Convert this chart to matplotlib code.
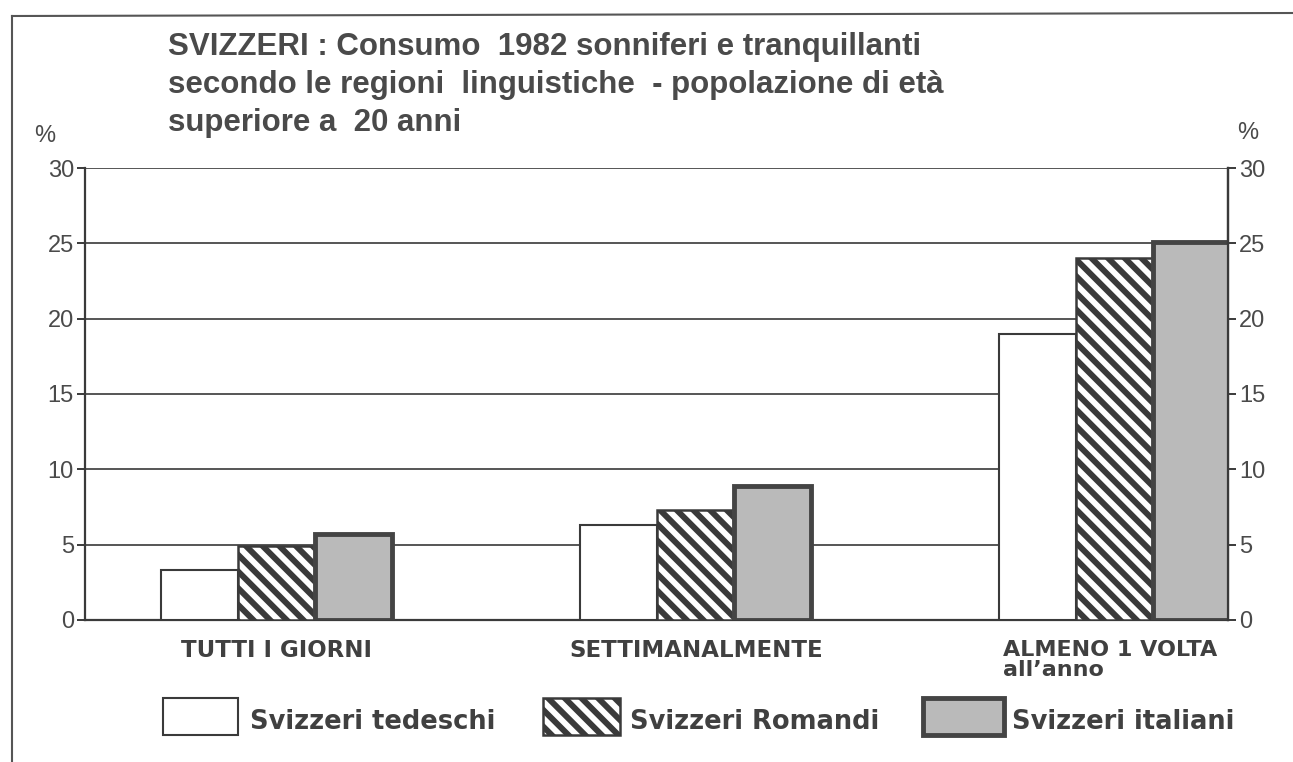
"""
Svizzeri: consumo 1982 sonniferi e tranquillanti per regione linguistica
"""
import matplotlib
matplotlib.use("Agg")
import matplotlib.pyplot as plt
from matplotlib.patches import Rectangle
from matplotlib.lines import Line2D

# dati
categorie = ["TUTTI I GIORNI", "SETTIMANALMENTE", "ALMENO 1 VOLTA\nall\u2019anno"]
tedeschi = [3.3, 6.3, 19.0]
romandi = [4.9, 7.3, 24.0]
italiani = [5.7, 8.9, 25.1]
gruppi = ["Svizzeri tedeschi", "Svizzeri Romandi", "Svizzeri italiani"]
y_ticks = [0, 5, 10, 15, 20, 25, 30]

plt.rcParams["hatch.linewidth"] = 4.3
plt.rcParams["font.family"] = ["Liberation Sans", "DejaVu Sans"]

INK = "#3a3a3a"
GRAY = "#bababa"
WIDE = ["DejaVu Sans"]

fig = plt.figure(figsize=(12.93, 7.62), dpi=100)
ax = fig.add_axes([0.0657, 0.1864, 0.8840, 0.5931])

x = list(range(len(categorie)))
w = 0.184
ax.bar([i - w for i in x], tedeschi, w, color="white", edgecolor=INK, linewidth=1.5, zorder=3)
ax.bar(x, romandi, w, color="white", edgecolor=INK, hatch="\\\\", linewidth=1.8, zorder=3)
ax.bar([i + w for i in x], italiani, w, color=GRAY, edgecolor="#444444", linewidth=3.5, zorder=3)

ax.set_xlim(-0.458, 2.27)
ax.set_ylim(0, 30)
ax.set_yticks(y_ticks)
ax.set_xticks([])
ax.yaxis.grid(True, color="#555555", linewidth=1.4)
ax.set_axisbelow(True)
ax.tick_params(axis="y", direction="out", length=6, width=1.4, color=INK,
               labelsize=17, labelcolor="#4a4a4a", pad=2)
for s in ax.spines.values():
    s.set_color(INK)
    s.set_linewidth(1.6)
ax.spines["top"].set_visible(False)

ax2 = ax.twinx()
ax2.set_ylim(0, 30)
ax2.set_yticks(y_ticks)
ax2.tick_params(axis="y", direction="out", length=6, width=1.4, color=INK,
                labelsize=17, labelcolor="#4a4a4a", pad=2)
for s in ax2.spines.values():
    s.set_visible(False)
ax2.spines["right"].set_visible(True)
ax2.spines["right"].set_color(INK)
ax2.spines["right"].set_linewidth(1.6)

fig.text(45 / 1293, 1 - 136 / 762, "%", fontsize=17, color="#4a4a4a", ha="center", va="center")
fig.text(1248 / 1293, 1 - 133 / 762, "%", fontsize=17, color="#4a4a4a", ha="center", va="center")

# titolo
tit = ["SVIZZERI : Consumo  1982 sonniferi e tranquillanti",
       "secondo le regioni  linguistiche  - popolazione di et\u00e0",
       "superiore a  20 anni"]
for k, riga in enumerate(tit):
    fig.text(168 / 1293, 1 - (47 + 38 * k) / 762, riga, fontsize=22.5, fontweight="bold",
             color="#4a4a4a", ha="left", va="center")

# etichette categorie
ax.text(0, -2.0, categorie[0], ha="center", va="center", fontsize=16.5, fontweight="bold",
        color="#404040", family=WIDE)
ax.text(1, -2.0, categorie[1], ha="center", va="center", fontsize=16.5, fontweight="bold",
        color="#404040", family=WIDE)
ax.text(2 - 1.5 * w + 0.01, -1.3, categorie[2], ha="left", va="top", fontsize=16, fontweight="bold",
        color="#404040", linespacing=1.05, family=WIDE)

# legenda
leg = [(163, 238, "white", None, 1.5, 250),
       (543, 620, "white", "\\\\", 1.8, 630),
       (923, 1004, GRAY, None, 3.5, 1012)]
for (x0, x1, fc, h, lw, tx), nome in zip(leg, gruppi):
    r = Rectangle((x0 / 1293, 1 - 735 / 762), (x1 - x0) / 1293, 37 / 762,
                  transform=fig.transFigure, facecolor=fc, edgecolor=INK if lw < 3 else "#444444",
                  hatch=h, linewidth=lw)
    fig.add_artist(r)
    fig.text(tx / 1293, 1 - 722 / 762, nome, fontsize=18.5, fontweight="bold", color="#404040",
             ha="left", va="center", family=WIDE)

# cornice della pagina
fig.add_artist(Line2D([12 / 1293, 12 / 1293], [0, 1 - 16 / 762], transform=fig.transFigure,
                      color="#555555", linewidth=1.5))
fig.add_artist(Line2D([12 / 1293, 1], [1 - 16 / 762, 1 - 13 / 762], transform=fig.transFigure,
                      color="#555555", linewidth=1.5))

fig.savefig("out.png", dpi=100)
